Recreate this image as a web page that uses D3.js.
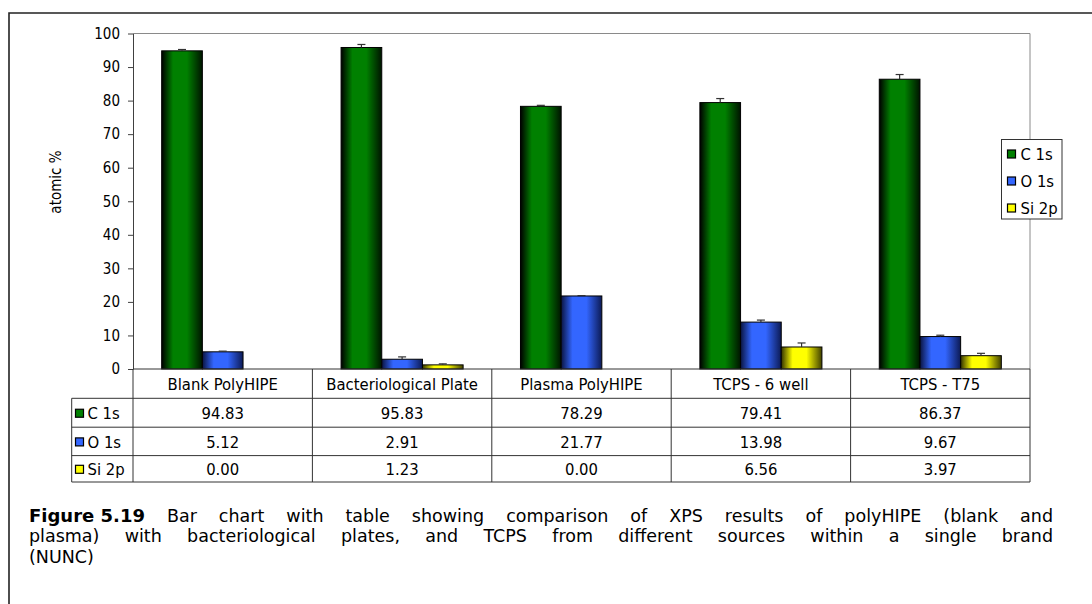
<!DOCTYPE html>
<html><head><meta charset="utf-8">
<script src="https://cdn.jsdelivr.net/npm/d3@7/dist/d3.min.js"></script>
<style>
html,body{margin:0;padding:0;background:#fff;}
svg{display:block;font-family:"DejaVu Sans",Verdana,sans-serif;}
.cf{font-family:"DejaVu Sans Condensed","Liberation Sans",Arial,sans-serif;}
</style></head>
<body>
<svg id="chart" width="1092" height="604"></svg>
<script>
// ---- data ----
const categories = ["Blank PolyHIPE","Bacteriological Plate","Plasma PolyHIPE","TCPS - 6 well","TCPS - T75"];
const seriesNames = ["C 1s","O 1s","Si 2p"];
const c1s  = [94.83, 95.83, 78.29, 79.41, 86.37];
const o1s  = [5.12, 2.91, 21.77, 13.98, 9.67];
const si2p = [0.00, 1.23, 0.00, 6.56, 3.97];
const c1sErr  = [0.4, 0.9, 0.3, 1.2, 1.4];
const o1sErr  = [0.2, 0.7, 0.1, 0.6, 0.4];
const si2pErr = [0.0, 0.3, 0.0, 1.2, 0.7];
const yTicks = [0,10,20,30,40,50,60,70,80,90,100];
const yLabel = "atomic %";
const captionBold = "Figure 5.19";
const captionLines = [
  "Bar chart with table showing comparison of XPS results of polyHIPE (blank and",
  "plasma) with bacteriological plates, and TCPS from different sources within a single brand",
  "(NUNC)"
];

const values = [c1s, o1s, si2p];
const errors = [c1sErr, o1sErr, si2pErr];
const colors = ["#008000","#3366ff","#ffff00"];
const gradStops = [
  ["#000000","#008000","#008000","#001400"],
  ["#0a1440","#3366ff","#3366ff","#0c1a55"],
  ["#333300","#ffff00","#ffff00","#404000"]
];

const svg = d3.select("#chart");
const defs = svg.append("defs");
gradStops.forEach((s,i)=>{
  const g = defs.append("linearGradient").attr("id","g"+i).attr("x1","0%").attr("x2","100%").attr("y1","0%").attr("y2","0%");
  [[0,s[0]],[0.28,s[1]],[0.62,s[2]],[1,s[3]]].forEach(([o,c])=>g.append("stop").attr("offset",o).attr("stop-color",c));
});

// outer frame
svg.append("path").attr("d","M9,620 L9,13 L1100,13").attr("fill","none").attr("stroke","#222").attr("stroke-width",1.6);

const L=133, R=1030, T=33.5, B=369;
const x = d3.scaleBand().domain(categories).range([L,R]);
const y = d3.scaleLinear().domain([0,100]).range([B,T]);
const barW = x.bandwidth()/4.41;
const xs = d3.scaleBand().domain(seriesNames).range([0,barW*3]);
const groupOff = (x.bandwidth()-barW*3)/2;

// plot border (top/right gray)
svg.append("path").attr("d",`M${L},${T} L${R},${T} L${R},${B}`).attr("fill","none").attr("stroke","#8a8a8a").attr("stroke-width",1);

// bars
const barData = [];
categories.forEach((c,ci)=>seriesNames.forEach((s,si)=>barData.push({c,s,si,v:values[si][ci],e:errors[si][ci]})));
const gBars = svg.append("g");
gBars.selectAll("rect").data(barData.filter(d=>d.v>0)).join("rect")
  .attr("x",d=>x(d.c)+groupOff+xs(d.s))
  .attr("y",d=>y(d.v))
  .attr("width",xs.bandwidth())
  .attr("height",d=>y(0)-y(d.v))
  .attr("fill",d=>`url(#g${d.si})`)
  .attr("stroke","#000").attr("stroke-width",1);

// error bars (plus only)
const gErr = svg.append("g").attr("stroke","#333").attr("stroke-width",1.2);
barData.filter(d=>d.e>0).forEach(d=>{
  const cx = x(d.c)+groupOff+xs(d.s)+xs.bandwidth()/2;
  gErr.append("line").attr("x1",cx).attr("x2",cx).attr("y1",y(d.v)).attr("y2",y(d.v+d.e));
  gErr.append("line").attr("x1",cx-4).attr("x2",cx+4).attr("y1",y(d.v+d.e)).attr("y2",y(d.v+d.e));
});

// y axis
const axFs = "15px";
const yAxis = d3.axisLeft(y).tickValues(yTicks).tickSize(5).tickSizeOuter(0).tickPadding(8);
const gy = svg.append("g").attr("transform",`translate(${L},0)`).call(yAxis);
gy.attr("font-family",null).attr("font-size",null).attr("class","cf");
gy.selectAll("text").attr("font-size",axFs).attr("fill","#000");
gy.selectAll("line,path").attr("stroke","#404040");
svg.append("text").attr("class","cf").attr("transform",`translate(56,182) rotate(-90)`).attr("text-anchor","middle")
  .attr("dominant-baseline","central").attr("font-size",axFs).text(yLabel);

// data table
const rowY = [B, 398.3, 427.2, 455.6, 482];
const tblLeft = 71.7;
const gT = svg.append("g").attr("stroke","#333").attr("stroke-width",1).attr("fill","none");
gT.append("line").attr("x1",L).attr("x2",R).attr("y1",B).attr("y2",B).attr("stroke","#333");
rowY.slice(1).forEach(yy=>gT.append("line").attr("x1",tblLeft).attr("x2",R).attr("y1",yy).attr("y2",yy));
gT.append("line").attr("x1",tblLeft).attr("x2",tblLeft).attr("y1",rowY[1]).attr("y2",rowY[4]);
const colEdges = categories.map(c=>x(c)).concat([R]);
colEdges.forEach(xx=>gT.append("line").attr("x1",xx).attr("x2",xx).attr("y1",B).attr("y2",rowY[4]));

const fs = "16.5px";
svg.append("g").attr("class","cf").selectAll("text").data(categories).join("text")
  .attr("x",d=>x(d)+x.bandwidth()/2).attr("y",(rowY[0]+rowY[1])/2+1)
  .attr("text-anchor","middle").attr("dominant-baseline","central").attr("font-size",fs).text(d=>d);

seriesNames.forEach((s,si)=>{
  const cy = (rowY[si+1]+rowY[si+2])/2+1;
  svg.append("rect").attr("x",75.5).attr("y",cy-4.5).attr("width",8).attr("height",8)
    .attr("fill",colors[si]).attr("stroke","#000").attr("stroke-width",1.2);
  svg.append("text").attr("class","cf").attr("x",87.5).attr("y",cy).attr("dominant-baseline","central").attr("font-size",fs).text(s);
  svg.append("g").attr("class","cf").selectAll("text").data(categories).join("text")
    .attr("x",d=>x(d)+x.bandwidth()/2).attr("y",cy)
    .attr("text-anchor","middle").attr("dominant-baseline","central").attr("font-size",fs)
    .text((d,ci)=>values[si][ci].toFixed(2));
});

// legend
const lg = svg.append("g").attr("class","cf");
lg.append("rect").attr("x",1001.5).attr("y",139.5).attr("width",60.5).attr("height",79.5)
  .attr("fill","#fff").attr("stroke","#333").attr("stroke-width",1);
seriesNames.forEach((s,si)=>{
  const cy = 154 + si*27;
  lg.append("rect").attr("x",1007.5).attr("y",cy-4).attr("width",8).attr("height",8)
    .attr("fill",colors[si]).attr("stroke","#000").attr("stroke-width",1.2);
  lg.append("text").attr("x",1020.5).attr("y",cy).attr("dominant-baseline","central").attr("font-size",fs).text(s);
});

// caption (justified)
const capL = 29, capR = 1053, capFsBold = 18, capFs = 17.5, capLH = 20.5, capY0 = 521.5;
captionLines.forEach((line,li)=>{
  const words = line.split(" ");
  const tokens = [];
  if(li===0) tokens.push({t:captionBold,b:true});
  words.forEach(w=>tokens.push({t:w,b:false}));
  const yy = capY0 + li*capLH;
  const nodes = tokens.map(tk=>svg.append("text").attr("y",yy).attr("font-size",(tk.b?capFsBold:capFs)+"px")
      .attr("font-weight",tk.b?"bold":"normal").text(tk.t));
  const widths = nodes.map(n=>n.node().getComputedTextLength());
  const total = d3.sum(widths);
  const justify = li < captionLines.length-1;
  const gap = justify ? (capR-capL-total)/(tokens.length-1) : capFs*0.35;
  let cx = capL;
  nodes.forEach((n,i)=>{ n.attr("x",cx); cx += widths[i]+gap; });
});
</script>
</body></html>
